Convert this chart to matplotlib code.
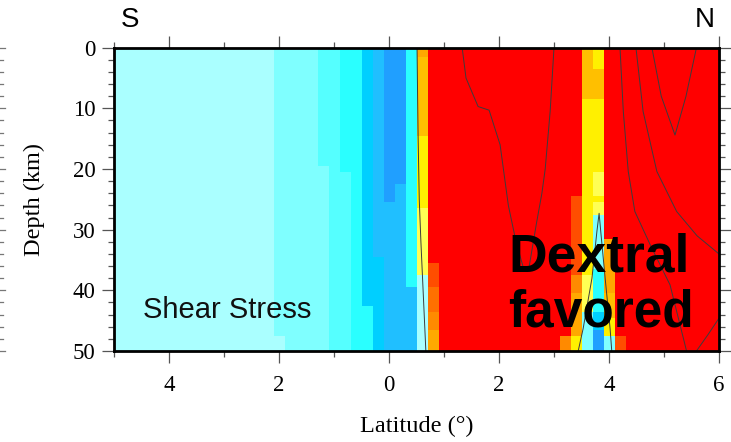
import numpy as np
import matplotlib
matplotlib.use("Agg")
import matplotlib.pyplot as plt
from matplotlib.colors import ListedColormap, BoundaryNorm
from matplotlib.lines import Line2D

# ---- palette: discrete shear-stress classes, sinistral (-8) ... dextral (+8)
class_codes = [-8, -7, -6, -5, -4, -3, -2, -1, 1, 2, 3, 4, 5, 6, 7, 8]
class_colors = ['#2060ff', '#209fff', '#20bfff', '#00cfff', '#2affff', '#55ffff',
                '#7fffff', '#aaffff', '#ffff54', '#fff000', '#ffbf00', '#ffa800',
                '#ff8a00', '#ff7000', '#ff4d00', '#ff0000']

# ---- model grid: 0.2 deg columns, 1 km rows
grid_lat = np.round(np.arange(-5.0, 6.0 + 1e-9, 0.2), 1)
grid_depth = np.arange(0, 51)

# class of columns with no change with depth
south_class = -1      # south of 2.1 S
north_class = 8       # elsewhere

# per-column profiles: (first row in km, class) runs
column_runs = {
    -2.0: [(0, -2), (48, -1)],
    -1.8: [(0, -2)],
    -1.6: [(0, -2)],
    -1.4: [(0, -2)],
    -1.2: [(0, -3), (20, -2)],
    -1.0: [(0, -3)],
    -0.8: [(0, -4), (21, -3)],
    -0.6: [(0, -4)],
    -0.4: [(0, -5), (43, -4)],
    -0.2: [(0, -6), (35, -5)],
    0.0: [(0, -7), (26, -6)],
    0.2: [(0, -7), (23, -6)],
    0.4: [(0, -4), (40, -6)],
    0.6: [(0, 4), (2, 3), (15, 2), (27, 1), (38, -1)],
    0.8: [(0, 8), (36, 7), (40, 6), (44, 5), (47, 4)],
    3.2: [(0, 8), (48, 5)],
    3.4: [(0, 8), (25, 7), (38, 5), (41, 4), (48, 2)],
    3.6: [(0, 3), (9, 2), (38, 1), (44, -2)],
    3.8: [(0, 2), (4, 3), (9, 2), (21, 1), (25, 2), (26, 1), (28, -2),
          (37, -4), (44, -5), (47, -7)],
    4.0: [(0, 8), (32, 4), (41, 3), (45, 2), (48, -2)],
    4.2: [(0, 8), (48, 7)],
}

# ---- contour traces (latitude, depth km)
zero_west_lat = [0.51, 0.52, 0.53, 0.55, 0.58, 0.61, 0.67]
zero_west_dep = [0, 8, 15, 25, 32, 38, 50]
zero_east_lat = [3.44, 3.53, 3.69, 3.78, 3.82, 3.85, 3.93, 4.02, 4.05]
zero_east_dep = [50, 46.3, 38, 30.3, 27.3, 30.3, 38, 46.3, 50]
trough_lat = [1.33, 1.40, 1.62, 1.82, 2.02, 2.17, 2.31, 2.45, 2.55, 2.68, 2.78, 2.84, 2.93, 3.0]
trough_dep = [0, 5, 9.7, 10.3, 16, 26, 32, 36.5, 36, 29, 24, 20, 10.5, 0]
east1_lat = [4.2, 4.26, 4.35, 4.47, 4.75, 5.11, 5.41]
east1_dep = [0, 10.5, 20.4, 27, 32.5, 39.1, 50]
vee_lat = [4.78, 4.95, 5.2, 5.4, 5.59]
vee_dep = [0, 8, 14.4, 8, 0]
east2_lat = [4.49, 4.62, 4.87, 5.23, 5.6, 6.0]
east2_dep = [0, 10.5, 20.4, 27, 31, 34]
corner_lat = [5.59, 5.8, 6.0]
corner_dep = [50, 47.3, 44.6]

x_ticks = [-4, -2, 0, 2, 4, 6]
x_tick_labels = ['4', '2', '0', '2', '4', '6']
y_ticks = [0, 10, 20, 30, 40, 50]

# ---- assemble the class grid
field = np.empty((len(grid_depth), len(grid_lat)))
for j, la in enumerate(grid_lat):
    runs = column_runs.get(float(la), [(0, south_class if la < -2.05 else north_class)])
    for start, code in runs:
        field[start:, j] = code

lat_edges = np.append(grid_lat - 0.1, grid_lat[-1] + 0.1)
dep_edges = np.append(grid_depth - 0.5, grid_depth[-1] + 0.5)

cmap = ListedColormap(class_colors)
bounds = sorted(set([c - 0.5 for c in class_codes if c < 0] + [-0.5]
                    + [c + 0.5 for c in class_codes if c > 0]))
norm = BoundaryNorm(bounds, cmap.N)

W, H = 731, 442
fig = plt.figure(figsize=(W / 100, H / 100), dpi=100)
ax_left, ax_right, ax_top, ax_bot = 114, 719, 47.7, 351
ax = fig.add_axes([ax_left / W, 1 - ax_bot / H, (ax_right - ax_left) / W, (ax_bot - ax_top) / H])

ax.pcolormesh(lat_edges, dep_edges, field, cmap=cmap, norm=norm,
              shading='flat', antialiased=False, edgecolors='none')

line_kw = dict(color='#3c3c3c', lw=0.7)
for xs, ys in [(zero_west_lat, zero_west_dep), (zero_east_lat, zero_east_dep),
               (trough_lat, trough_dep), (east1_lat, east1_dep),
               (vee_lat, vee_dep), (east2_lat, east2_dep),
               (corner_lat, corner_dep)]:
    ax.plot(xs, ys, **line_kw)

ax.set_xlim(-5, 6)
ax.set_ylim(50, 0)

ax.set_xticks(x_ticks)
ax.set_xticklabels(x_tick_labels)
ax.set_xticks(np.arange(-5, 7, 1), minor=True)
ax.set_yticks(y_ticks)
ax.set_yticks(np.arange(0, 51, 2), minor=True)

serif = ['Liberation Serif', 'DejaVu Serif']
for lab in ax.get_xticklabels() + ax.get_yticklabels():
    lab.set_fontfamily(serif)
    lab.set_fontsize(16.5)

ax.tick_params(which='both', direction='out', top=True, right=True,
               labeltop=False, labelright=False, color='#555555', width=0.9)
ax.tick_params(which='major', length=8.5, pad=5)
ax.tick_params(which='minor', length=4.3)
ax.tick_params(axis='x', which='major', pad=9)

for sp in ax.spines.values():
    sp.set_linewidth(2.0)
    sp.set_color('black')

ax.set_xlabel('Latitude (°)', fontfamily=serif, fontsize=17.5, labelpad=14)
ax.set_ylabel('Depth (km)', fontfamily=serif, fontsize=17.5, labelpad=20)

# tick marks of the neighbouring panel frame at the left margin
for d in np.arange(0, 51, 2):
    yy = 1 - (ax_top + (ax_bot - ax_top) * d / 50) / H
    ln = 5 if d % 10 == 0 else 3
    fig.add_artist(Line2D([0, ln / W], [yy, yy], color='#777777', lw=0.9))

sans = ['Liberation Sans', 'DejaVu Sans']
fig.text(130 / W, 1 - 20 / H, 'S', fontfamily=sans, fontsize=20, ha='center', va='center')
fig.text(705 / W, 1 - 20 / H, 'N', fontfamily=sans, fontsize=20, ha='center', va='center')

fig.text(143 / W, 1 - 310 / H, 'Shear Stress', fontfamily=sans, fontsize=21,
         ha='left', va='center', color='#111111')
fig.text(508 / W, 1 - 258 / H, 'Dextral', fontfamily=sans, fontweight='bold',
         fontsize=38.5, ha='left', va='center', color='black')
fig.text(508 / W, 1 - 313 / H, 'favored', fontfamily=sans, fontweight='bold',
         fontsize=37, ha='left', va='center', color='black')

fig.savefig('out.png', dpi=100)
